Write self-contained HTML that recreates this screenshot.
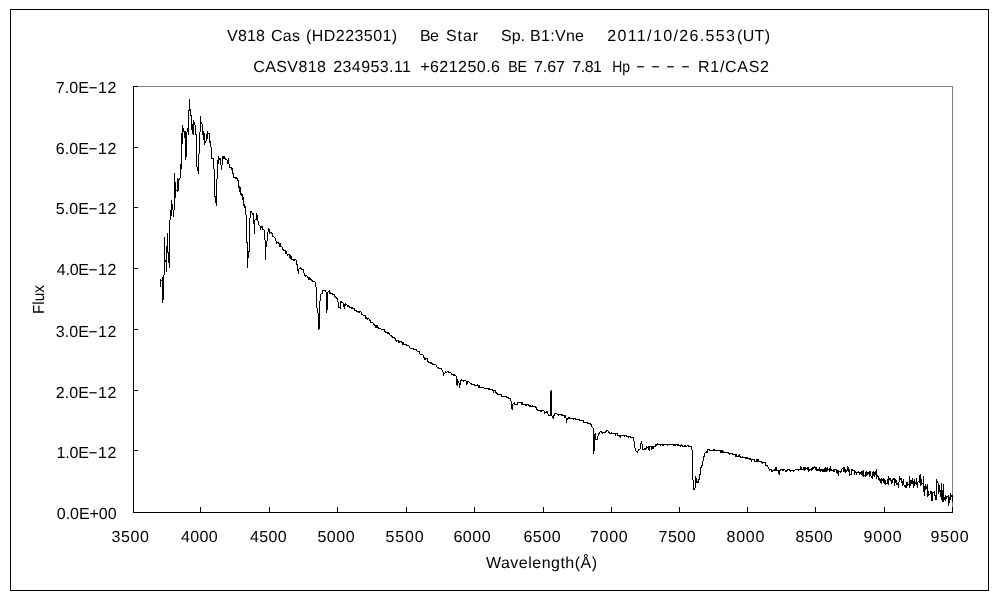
<!DOCTYPE html>
<html lang="ja"><head><meta charset="utf-8"><title>V818 Cas (HD223501) Be Star spectrum</title>
<style>html,body{margin:0;padding:0;background:#fff}body{width:1000px;height:600px;overflow:hidden}svg{display:block;filter:grayscale(1)}text{font-family:"Liberation Sans","IPAGothic",sans-serif;font-size:16px;fill:#000;text-rendering:geometricPrecision}</style></head><body>
<svg width="1000" height="600" viewBox="0 0 1000 600">
<rect x="0" y="0" width="1000" height="600" fill="#fff"/>
<g shape-rendering="crispEdges">
<rect x="10.5" y="9.5" width="978" height="581" fill="none" stroke="#000" stroke-width="1"/>
<rect x="138" y="86" width="815" height="1" fill="#808080"/>
<rect x="952" y="86" width="1" height="421" fill="#808080"/>
<rect x="133" y="86" width="1" height="427" fill="#000"/>
<rect x="133" y="512" width="820" height="1" fill="#000"/>
<path d="M134 86h4v1h-4zM134 147h4v1h-4zM134 207h4v1h-4zM134 268h4v1h-4zM134 329h4v1h-4zM134 390h4v1h-4zM134 450h4v1h-4zM134 512h4v1h-4zM133 507h1v5h-1zM200 507h1v5h-1zM269 507h1v5h-1zM337 507h1v5h-1zM406 507h1v5h-1zM474 507h1v5h-1zM543 507h1v5h-1zM611 507h1v5h-1zM679 507h1v5h-1zM747 507h1v5h-1zM815 507h1v5h-1zM884 507h1v5h-1zM952 507h1v5h-1z" fill="#000"/>
<path d="M160 279h1v8h-1zM161 280h1v1h-1zM162 277h1v26h-1zM163 275h1v25h-1zM164 237h1v38h-1zM165 260h1v2h-1zM166 246h1v26h-1zM167 233h1v20h-1zM168 252h1v11h-1zM169 220h1v48h-1zM170 210h1v10h-1zM171 200h1v16h-1zM172 204h1v6h-1zM173 210h1v7h-1zM174 173h1v37h-1zM175 182h1v16h-1zM176 190h1v1h-1zM177 178h1v14h-1zM178 179h1v12h-1zM179 178h1v2h-1zM180 164h1v14h-1zM181 133h1v36h-1zM182 125h1v19h-1zM183 128h1v4h-1zM184 131h1v7h-1zM185 131h1v29h-1zM186 132h1v25h-1zM187 128h1v4h-1zM188 110h1v25h-1zM189 99h1v12h-1zM190 109h1v7h-1zM191 115h1v15h-1zM192 124h1v10h-1zM193 120h1v15h-1zM194 122h1v3h-1zM195 125h1v10h-1zM196 134h1v33h-1zM197 167h1v4h-1zM198 154h1v20h-1zM199 132h1v22h-1zM200 116h1v16h-1zM201 122h1v2h-1zM202 124h1v11h-1zM203 131h1v9h-1zM204 133h1v12h-1zM205 141h1v2h-1zM206 134h1v7h-1zM207 131h1v8h-1zM208 133h1v1h-1zM209 133h1v10h-1zM210 141h1v6h-1zM211 147h1v12h-1zM212 158h1v1h-1zM213 158h1v11h-1zM214 169h1v28h-1zM215 196h1v7h-1zM216 179h1v27h-1zM217 160h1v19h-1zM218 156h1v8h-1zM219 158h1v2h-1zM220 158h1v7h-1zM221 165h1v5h-1zM222 156h1v9h-1zM223 156h1v3h-1zM224 156h1v3h-1zM225 158h1v2h-1zM226 159h1v1h-1zM227 160h1v4h-1zM228 158h1v6h-1zM229 164h1v4h-1zM230 167h1v1h-1zM231 167h1v3h-1zM232 168h1v6h-1zM233 173h1v5h-1zM234 177h1v1h-1zM235 177h1v2h-1zM236 177h1v2h-1zM237 178h1v3h-1zM238 180h1v8h-1zM239 186h1v6h-1zM240 187h1v8h-1zM241 193h1v3h-1zM242 194h1v6h-1zM243 197h1v9h-1zM244 204h1v4h-1zM245 206h1v9h-1zM246 215h1v28h-1zM247 242h1v26h-1zM248 251h1v7h-1zM249 218h1v34h-1zM250 211h1v7h-1zM251 211h1v2h-1zM252 213h1v2h-1zM253 213h1v11h-1zM254 220h1v14h-1zM255 219h1v1h-1zM256 213h1v7h-1zM257 215h1v6h-1zM258 221h1v4h-1zM259 225h1v1h-1zM260 226h1v4h-1zM261 226h1v2h-1zM262 226h1v4h-1zM263 229h1v1h-1zM264 230h1v10h-1zM265 240h1v20h-1zM266 241h1v6h-1zM267 232h1v9h-1zM268 228h1v4h-1zM269 229h1v5h-1zM270 232h1v1h-1zM271 232h1v2h-1zM272 233h1v4h-1zM273 236h1v1h-1zM274 237h1v1h-1zM275 238h1v3h-1zM276 241h1v3h-1zM277 242h1v1h-1zM278 242h1v2h-1zM279 243h1v4h-1zM280 243h1v4h-1zM281 246h1v1h-1zM282 247h1v3h-1zM283 249h1v2h-1zM284 250h1v1h-1zM285 250h1v4h-1zM286 251h1v3h-1zM287 254h1v2h-1zM288 254h1v1h-1zM289 254h1v4h-1zM290 255h1v4h-1zM291 256h1v4h-1zM292 259h1v1h-1zM293 259h1v2h-1zM294 259h1v2h-1zM295 259h1v1h-1zM296 260h1v5h-1zM297 264h1v7h-1zM298 269h1v5h-1zM299 268h1v1h-1zM300 267h1v2h-1zM301 268h1v2h-1zM302 269h1v1h-1zM303 269h1v4h-1zM304 273h1v3h-1zM305 275h1v2h-1zM306 275h1v1h-1zM307 276h1v2h-1zM308 277h1v3h-1zM309 277h1v3h-1zM310 278h1v2h-1zM311 279h1v2h-1zM312 280h1v2h-1zM313 281h1v1h-1zM314 281h1v1h-1zM315 282h1v5h-1zM316 287h1v21h-1zM317 308h1v5h-1zM318 313h1v17h-1zM319 301h1v28h-1zM320 294h1v7h-1zM321 293h1v1h-1zM322 290h1v4h-1zM323 290h1v1h-1zM324 290h1v1h-1zM325 290h1v2h-1zM326 292h1v21h-1zM327 292h1v18h-1zM328 291h1v1h-1zM329 290h1v4h-1zM330 292h1v2h-1zM331 293h1v1h-1zM332 293h1v2h-1zM333 294h1v1h-1zM334 294h1v3h-1zM335 296h1v2h-1zM336 297h1v2h-1zM337 298h1v4h-1zM338 302h1v6h-1zM339 307h1v1h-1zM340 301h1v8h-1zM341 301h1v2h-1zM342 302h1v1h-1zM343 303h1v4h-1zM344 304h1v5h-1zM345 303h1v3h-1zM346 304h1v1h-1zM347 305h1v2h-1zM348 305h1v2h-1zM349 306h1v2h-1zM350 307h1v1h-1zM351 307h1v2h-1zM352 307h1v2h-1zM353 308h1v1h-1zM354 308h1v3h-1zM355 310h1v1h-1zM356 310h1v2h-1zM357 311h1v1h-1zM358 311h1v2h-1zM359 311h1v2h-1zM360 311h1v1h-1zM361 312h1v3h-1zM362 314h1v1h-1zM363 315h1v1h-1zM364 315h1v1h-1zM365 315h1v4h-1zM366 317h1v2h-1zM367 318h1v2h-1zM368 318h1v1h-1zM369 319h1v2h-1zM370 320h1v3h-1zM371 322h1v1h-1zM372 322h1v1h-1zM373 323h1v2h-1zM374 324h1v2h-1zM375 325h1v3h-1zM376 325h1v3h-1zM377 325h1v3h-1zM378 327h1v2h-1zM379 328h1v1h-1zM380 328h1v1h-1zM381 329h1v1h-1zM382 329h1v1h-1zM383 329h1v1h-1zM384 329h1v3h-1zM385 331h1v2h-1zM386 332h1v1h-1zM387 332h1v2h-1zM388 332h1v2h-1zM389 333h1v2h-1zM390 335h1v1h-1zM391 335h1v2h-1zM392 336h1v2h-1zM393 337h1v1h-1zM394 337h1v2h-1zM395 338h1v3h-1zM396 340h1v2h-1zM397 340h1v1h-1zM398 340h1v3h-1zM399 341h1v2h-1zM400 341h1v1h-1zM401 341h1v2h-1zM402 342h1v3h-1zM403 342h1v3h-1zM404 344h1v1h-1zM405 344h1v1h-1zM406 344h1v2h-1zM407 345h1v1h-1zM408 345h1v1h-1zM409 346h1v2h-1zM410 348h1v1h-1zM411 348h1v1h-1zM412 348h1v1h-1zM413 348h1v2h-1zM414 349h1v1h-1zM415 349h1v1h-1zM416 349h1v2h-1zM417 351h1v1h-1zM418 351h1v1h-1zM419 351h1v3h-1zM420 354h1v1h-1zM421 354h1v1h-1zM422 354h1v1h-1zM423 355h1v3h-1zM424 357h1v3h-1zM425 358h1v2h-1zM426 358h1v1h-1zM427 358h1v4h-1zM428 361h1v2h-1zM429 362h1v1h-1zM430 362h1v2h-1zM431 362h1v2h-1zM432 363h1v2h-1zM433 364h1v1h-1zM434 364h1v1h-1zM435 364h1v1h-1zM436 365h1v2h-1zM437 367h1v1h-1zM438 367h1v2h-1zM439 368h1v1h-1zM440 368h1v1h-1zM441 368h1v2h-1zM442 370h1v2h-1zM443 372h1v4h-1zM444 373h1v1h-1zM445 371h1v2h-1zM446 372h1v1h-1zM447 371h1v1h-1zM448 371h1v2h-1zM449 372h1v1h-1zM450 372h1v1h-1zM451 373h1v2h-1zM452 374h1v1h-1zM453 374h1v2h-1zM454 374h1v2h-1zM455 375h1v1h-1zM456 376h1v9h-1zM457 379h1v7h-1zM458 381h1v2h-1zM459 383h1v5h-1zM460 380h1v5h-1zM461 379h1v2h-1zM462 380h1v1h-1zM463 380h1v2h-1zM464 380h1v1h-1zM465 380h1v1h-1zM466 381h1v4h-1zM467 381h1v3h-1zM468 381h1v1h-1zM469 382h1v1h-1zM470 383h1v1h-1zM471 383h1v2h-1zM472 384h1v1h-1zM473 384h1v1h-1zM474 384h1v2h-1zM475 385h1v1h-1zM476 385h1v1h-1zM477 384h1v2h-1zM478 385h1v3h-1zM479 385h1v3h-1zM480 387h1v1h-1zM481 387h1v1h-1zM482 387h1v1h-1zM483 387h1v1h-1zM484 388h1v1h-1zM485 388h1v1h-1zM486 388h1v1h-1zM487 388h1v1h-1zM488 388h1v2h-1zM489 388h1v2h-1zM490 389h1v1h-1zM491 389h1v1h-1zM492 389h1v2h-1zM493 390h1v3h-1zM494 390h1v1h-1zM495 390h1v3h-1zM496 392h1v2h-1zM497 393h1v2h-1zM498 394h1v1h-1zM499 394h1v1h-1zM500 394h1v1h-1zM501 394h1v3h-1zM502 396h1v1h-1zM503 396h1v1h-1zM504 396h1v1h-1zM505 396h1v1h-1zM506 396h1v2h-1zM507 397h1v1h-1zM508 397h1v2h-1zM509 398h1v1h-1zM510 398h1v3h-1zM511 401h1v8h-1zM512 404h1v6h-1zM513 403h1v1h-1zM514 402h1v3h-1zM515 404h1v1h-1zM516 404h1v1h-1zM517 402h1v3h-1zM518 402h1v1h-1zM519 402h1v1h-1zM520 402h1v1h-1zM521 402h1v3h-1zM522 402h1v3h-1zM523 404h1v1h-1zM524 404h1v1h-1zM525 404h1v2h-1zM526 404h1v2h-1zM527 404h1v1h-1zM528 404h1v2h-1zM529 405h1v2h-1zM530 405h1v2h-1zM531 406h1v1h-1zM532 405h1v2h-1zM533 406h1v1h-1zM534 406h1v1h-1zM535 406h1v2h-1zM536 407h1v3h-1zM537 409h1v2h-1zM538 410h1v1h-1zM539 410h1v1h-1zM540 410h1v2h-1zM541 410h1v2h-1zM542 410h1v1h-1zM543 410h1v1h-1zM544 411h1v3h-1zM545 412h1v1h-1zM546 411h1v2h-1zM547 411h1v3h-1zM548 414h1v2h-1zM549 415h1v1h-1zM550 391h1v25h-1zM551 390h1v26h-1zM552 416h1v2h-1zM553 415h1v4h-1zM554 413h1v3h-1zM555 413h1v1h-1zM556 413h1v1h-1zM557 414h1v1h-1zM558 414h1v2h-1zM559 414h1v1h-1zM560 414h1v1h-1zM561 414h1v2h-1zM562 414h1v2h-1zM563 415h1v1h-1zM564 415h1v3h-1zM565 415h1v3h-1zM566 418h1v5h-1zM567 418h1v2h-1zM568 417h1v2h-1zM569 417h1v2h-1zM570 418h1v1h-1zM571 418h1v1h-1zM572 418h1v1h-1zM573 418h1v2h-1zM574 418h1v1h-1zM575 418h1v2h-1zM576 419h1v1h-1zM577 419h1v1h-1zM578 419h1v1h-1zM579 419h1v2h-1zM580 420h1v1h-1zM581 420h1v1h-1zM582 420h1v1h-1zM583 420h1v3h-1zM584 422h1v1h-1zM585 422h1v1h-1zM586 422h1v1h-1zM587 422h1v2h-1zM588 423h1v1h-1zM589 423h1v1h-1zM590 423h1v2h-1zM591 424h1v3h-1zM592 427h1v1h-1zM593 428h1v26h-1zM594 434h1v17h-1zM595 433h1v7h-1zM596 439h1v1h-1zM597 436h1v4h-1zM598 433h1v3h-1zM599 432h1v2h-1zM600 431h1v1h-1zM601 431h1v2h-1zM602 432h1v2h-1zM603 432h1v1h-1zM604 432h1v1h-1zM605 431h1v2h-1zM606 430h1v2h-1zM607 430h1v1h-1zM608 431h1v2h-1zM609 432h1v2h-1zM610 433h1v1h-1zM611 432h1v2h-1zM612 433h1v1h-1zM613 433h1v1h-1zM614 433h1v1h-1zM615 433h1v3h-1zM616 433h1v1h-1zM617 433h1v3h-1zM618 435h1v1h-1zM619 435h1v2h-1zM620 435h1v3h-1zM621 435h1v1h-1zM622 435h1v1h-1zM623 435h1v1h-1zM624 435h1v2h-1zM625 435h1v1h-1zM626 435h1v2h-1zM627 436h1v1h-1zM628 436h1v2h-1zM629 436h1v1h-1zM630 436h1v2h-1zM631 437h1v1h-1zM632 437h1v1h-1zM633 437h1v4h-1zM634 441h1v7h-1zM635 448h1v3h-1zM636 451h1v1h-1zM637 451h1v2h-1zM638 449h1v2h-1zM639 449h1v1h-1zM640 443h1v6h-1zM641 441h1v3h-1zM642 444h1v6h-1zM643 449h1v1h-1zM644 448h1v2h-1zM645 448h1v2h-1zM646 446h1v3h-1zM647 447h1v1h-1zM648 446h1v4h-1zM649 446h1v5h-1zM650 446h1v1h-1zM651 446h1v4h-1zM652 446h1v3h-1zM653 446h1v3h-1zM654 446h1v1h-1zM655 444h1v3h-1zM656 444h1v2h-1zM657 443h1v2h-1zM658 444h1v1h-1zM659 444h1v1h-1zM660 444h1v2h-1zM661 444h1v1h-1zM662 444h1v2h-1zM663 444h1v2h-1zM664 444h1v1h-1zM665 444h1v1h-1zM666 444h1v1h-1zM667 444h1v2h-1zM668 444h1v1h-1zM669 444h1v1h-1zM670 444h1v1h-1zM671 444h1v1h-1zM672 444h1v1h-1zM673 444h1v2h-1zM674 444h1v2h-1zM675 444h1v2h-1zM676 444h1v1h-1zM677 444h1v2h-1zM678 444h1v2h-1zM679 445h1v1h-1zM680 445h1v2h-1zM681 444h1v2h-1zM682 445h1v2h-1zM683 446h1v1h-1zM684 445h1v2h-1zM685 445h1v2h-1zM686 446h1v1h-1zM687 445h1v1h-1zM688 445h1v2h-1zM689 446h1v1h-1zM690 446h1v1h-1zM691 446h1v4h-1zM692 450h1v30h-1zM693 480h1v10h-1zM694 488h1v2h-1zM695 476h1v12h-1zM696 478h1v5h-1zM697 481h1v2h-1zM698 479h1v4h-1zM699 474h1v6h-1zM700 467h1v8h-1zM701 465h1v3h-1zM702 461h1v5h-1zM703 456h1v5h-1zM704 453h1v4h-1zM705 452h1v1h-1zM706 451h1v2h-1zM707 449h1v4h-1zM708 449h1v1h-1zM709 449h1v2h-1zM710 450h1v1h-1zM711 450h1v1h-1zM712 450h1v1h-1zM713 449h1v2h-1zM714 449h1v2h-1zM715 450h1v1h-1zM716 450h1v1h-1zM717 450h1v1h-1zM718 450h1v1h-1zM719 450h1v1h-1zM720 450h1v3h-1zM721 450h1v3h-1zM722 450h1v3h-1zM723 451h1v2h-1zM724 452h1v1h-1zM725 452h1v1h-1zM726 452h1v1h-1zM727 452h1v1h-1zM728 452h1v2h-1zM729 453h1v2h-1zM730 453h1v1h-1zM731 453h1v1h-1zM732 453h1v2h-1zM733 454h1v1h-1zM734 454h1v1h-1zM735 454h1v3h-1zM736 454h1v3h-1zM737 456h1v1h-1zM738 455h1v2h-1zM739 454h1v3h-1zM740 456h1v2h-1zM741 457h1v1h-1zM742 456h1v2h-1zM743 457h1v1h-1zM744 457h1v1h-1zM745 457h1v2h-1zM746 457h1v2h-1zM747 457h1v2h-1zM748 458h1v1h-1zM749 458h1v2h-1zM750 458h1v2h-1zM751 459h1v3h-1zM752 459h1v1h-1zM753 459h1v1h-1zM754 459h1v3h-1zM755 461h1v1h-1zM756 459h1v3h-1zM757 459h1v3h-1zM758 459h1v3h-1zM759 461h1v1h-1zM760 461h1v1h-1zM761 461h1v2h-1zM762 462h1v2h-1zM763 462h1v1h-1zM764 462h1v1h-1zM765 462h1v4h-1zM766 465h1v1h-1zM767 465h1v2h-1zM768 467h1v2h-1zM769 469h1v2h-1zM770 469h1v1h-1zM771 469h1v3h-1zM772 470h1v2h-1zM773 470h1v1h-1zM774 469h1v2h-1zM775 467h1v4h-1zM776 467h1v4h-1zM777 470h1v1h-1zM778 470h1v4h-1zM779 470h1v5h-1zM780 469h1v2h-1zM781 469h1v1h-1zM782 469h1v2h-1zM783 469h1v2h-1zM784 469h1v1h-1zM785 470h1v2h-1zM786 470h1v2h-1zM787 469h1v2h-1zM788 469h1v1h-1zM789 469h1v2h-1zM790 470h1v2h-1zM791 470h1v1h-1zM792 470h1v1h-1zM793 470h1v2h-1zM794 470h1v1h-1zM795 469h1v1h-1zM796 469h1v1h-1zM797 469h1v1h-1zM798 469h1v2h-1zM799 469h1v1h-1zM800 466h1v4h-1zM801 467h1v3h-1zM802 469h1v1h-1zM803 467h1v3h-1zM804 467h1v4h-1zM805 467h1v3h-1zM806 468h1v1h-1zM807 467h1v3h-1zM808 467h1v5h-1zM809 469h1v2h-1zM810 469h1v1h-1zM811 468h1v3h-1zM812 467h1v3h-1zM813 467h1v2h-1zM814 466h1v2h-1zM815 467h1v3h-1zM816 467h1v4h-1zM817 469h1v2h-1zM818 469h1v2h-1zM819 467h1v4h-1zM820 469h1v3h-1zM821 469h1v2h-1zM822 469h1v3h-1zM823 469h1v3h-1zM824 468h1v4h-1zM825 467h1v5h-1zM826 468h1v4h-1zM827 467h1v4h-1zM828 469h1v1h-1zM829 468h1v4h-1zM830 466h1v5h-1zM831 469h1v2h-1zM832 470h1v1h-1zM833 469h1v3h-1zM834 469h1v3h-1zM835 469h1v1h-1zM836 469h1v4h-1zM837 470h1v4h-1zM838 470h1v6h-1zM839 471h1v1h-1zM840 471h1v2h-1zM841 469h1v3h-1zM842 468h1v1h-1zM843 467h1v5h-1zM844 467h1v5h-1zM845 469h1v4h-1zM846 470h1v2h-1zM847 466h1v5h-1zM848 467h1v5h-1zM849 469h1v7h-1zM850 474h1v1h-1zM851 469h1v6h-1zM852 469h1v2h-1zM853 470h1v1h-1zM854 470h1v5h-1zM855 471h1v2h-1zM856 472h1v3h-1zM857 472h1v1h-1zM858 471h1v2h-1zM859 472h1v3h-1zM860 472h1v2h-1zM861 471h1v4h-1zM862 471h1v5h-1zM863 470h1v7h-1zM864 475h1v1h-1zM865 472h1v5h-1zM866 471h1v5h-1zM867 472h1v3h-1zM868 472h1v2h-1zM869 471h1v6h-1zM870 471h1v5h-1zM871 476h1v2h-1zM872 472h1v7h-1zM873 471h1v5h-1zM874 472h1v5h-1zM875 471h1v4h-1zM876 469h1v10h-1zM877 475h1v2h-1zM878 476h1v4h-1zM879 478h1v3h-1zM880 479h1v4h-1zM881 478h1v6h-1zM882 479h1v2h-1zM883 478h1v5h-1zM884 479h1v5h-1zM885 480h1v5h-1zM886 483h1v1h-1zM887 479h1v5h-1zM888 476h1v9h-1zM889 478h1v2h-1zM890 478h1v3h-1zM891 480h1v4h-1zM892 479h1v4h-1zM893 478h1v2h-1zM894 478h1v8h-1zM895 479h1v4h-1zM896 480h1v5h-1zM897 483h1v2h-1zM898 482h1v6h-1zM899 476h1v6h-1zM900 478h1v2h-1zM901 478h1v5h-1zM902 481h1v5h-1zM903 479h1v6h-1zM904 485h1v2h-1zM905 485h1v3h-1zM906 482h1v6h-1zM907 482h1v4h-1zM908 484h1v1h-1zM909 476h1v12h-1zM910 480h1v6h-1zM911 480h1v4h-1zM912 478h1v6h-1zM913 481h1v7h-1zM914 479h1v7h-1zM915 482h1v2h-1zM916 478h1v7h-1zM917 482h1v6h-1zM918 481h1v1h-1zM919 475h1v8h-1zM920 474h1v12h-1zM921 479h1v6h-1zM922 483h1v1h-1zM923 476h1v16h-1zM924 486h1v10h-1zM925 484h1v6h-1zM926 486h1v3h-1zM927 484h1v13h-1zM928 491h1v5h-1zM929 494h1v1h-1zM930 491h1v3h-1zM931 491h1v10h-1zM932 492h1v9h-1zM933 492h1v1h-1zM934 491h1v5h-1zM935 495h1v5h-1zM936 479h1v21h-1zM937 481h1v2h-1zM938 483h1v11h-1zM939 485h1v7h-1zM940 490h1v7h-1zM941 483h1v17h-1zM942 490h1v12h-1zM943 484h1v18h-1zM944 497h1v3h-1zM945 495h1v6h-1zM946 496h1v3h-1zM947 496h1v1h-1zM948 495h1v11h-1zM949 497h1v6h-1zM950 493h1v7h-1zM951 495h1v2h-1zM952 495h1v7h-1z" fill="#000"/>
</g>
<g>
<text><tspan x="227.00" y="41.00" textLength="38.00" lengthAdjust="spacing">V818</tspan></text>
<text><tspan x="271.00" y="41.00" textLength="29.00" lengthAdjust="spacing">Cas</tspan></text>
<text><tspan x="306.00" y="41.00" textLength="91.20" lengthAdjust="spacing">(HD223501)</tspan></text>
<text><tspan x="420.00" y="41.00" textLength="19.00" lengthAdjust="spacing">Be</tspan></text>
<text><tspan x="446.00" y="41.00" textLength="32.00" lengthAdjust="spacing">Star</tspan></text>
<text><tspan x="501.00" y="41.00" textLength="24.00" lengthAdjust="spacing">Sp.</tspan></text>
<text><tspan x="530.00" y="41.00" textLength="54.00" lengthAdjust="spacing">B1:Vne</tspan></text>
<text><tspan x="607.20" y="41.00" textLength="127.80" lengthAdjust="spacing">2011/10/26.553</tspan><tspan x="737.00" y="41.00" textLength="33.00" lengthAdjust="spacing">(UT)</tspan></text>
<text><tspan x="253.20" y="72.00" textLength="72.80" lengthAdjust="spacing">CASV818</tspan></text>
<text><tspan x="333.20" y="72.00" textLength="77.80" lengthAdjust="spacing">234953.11</tspan></text>
<text><tspan x="420.20" y="72.00" textLength="79.80" lengthAdjust="spacing">+621250.6</tspan></text>
<text><tspan x="508.20" y="72.00" textLength="18.80" lengthAdjust="spacingAndGlyphs">BE</tspan></text>
<text><tspan x="534.00" y="72.00" textLength="31.00" lengthAdjust="spacing">7.67</tspan></text>
<text><tspan x="572.20" y="72.00" textLength="29.80" lengthAdjust="spacing">7.81</tspan></text>
<text><tspan x="612.20" y="72.00" textLength="17.80" lengthAdjust="spacingAndGlyphs">Hp</tspan></text>
<text><tspan x="698.00" y="72.00" textLength="71.00" lengthAdjust="spacing">R1/CAS2</tspan></text>
<text><tspan x="636.00" y="70.80" textLength="9.00" lengthAdjust="spacingAndGlyphs">-</tspan></text>
<text><tspan x="651.00" y="70.80" textLength="9.00" lengthAdjust="spacingAndGlyphs">-</tspan></text>
<text><tspan x="666.00" y="70.80" textLength="9.00" lengthAdjust="spacingAndGlyphs">-</tspan></text>
<text><tspan x="681.00" y="70.80" textLength="9.00" lengthAdjust="spacingAndGlyphs">-</tspan></text>
<text><tspan x="55.80" y="93.00" textLength="33.20" lengthAdjust="spacing">7.0E</tspan><tspan x="88.00" y="91.80" textLength="10.00" lengthAdjust="spacingAndGlyphs">-</tspan><tspan x="98.00" y="93.00" textLength="18.40" lengthAdjust="spacing">12</tspan></text>
<text><tspan x="55.80" y="154.00" textLength="33.20" lengthAdjust="spacing">6.0E</tspan><tspan x="88.00" y="152.80" textLength="10.00" lengthAdjust="spacingAndGlyphs">-</tspan><tspan x="98.00" y="154.00" textLength="18.40" lengthAdjust="spacing">12</tspan></text>
<text><tspan x="55.80" y="214.00" textLength="33.20" lengthAdjust="spacing">5.0E</tspan><tspan x="88.00" y="212.80" textLength="10.00" lengthAdjust="spacingAndGlyphs">-</tspan><tspan x="98.00" y="214.00" textLength="18.40" lengthAdjust="spacing">12</tspan></text>
<text><tspan x="56.80" y="275.00" textLength="32.20" lengthAdjust="spacing">4.0E</tspan><tspan x="88.00" y="273.80" textLength="10.00" lengthAdjust="spacingAndGlyphs">-</tspan><tspan x="98.00" y="275.00" textLength="18.40" lengthAdjust="spacing">12</tspan></text>
<text><tspan x="55.80" y="337.00" textLength="33.20" lengthAdjust="spacing">3.0E</tspan><tspan x="88.00" y="335.80" textLength="10.00" lengthAdjust="spacingAndGlyphs">-</tspan><tspan x="98.00" y="337.00" textLength="18.40" lengthAdjust="spacing">12</tspan></text>
<text><tspan x="55.80" y="398.00" textLength="33.20" lengthAdjust="spacing">2.0E</tspan><tspan x="88.00" y="396.80" textLength="10.00" lengthAdjust="spacingAndGlyphs">-</tspan><tspan x="98.00" y="398.00" textLength="18.40" lengthAdjust="spacing">12</tspan></text>
<text><tspan x="56.40" y="458.00" textLength="32.60" lengthAdjust="spacing">1.0E</tspan><tspan x="88.00" y="456.80" textLength="10.00" lengthAdjust="spacingAndGlyphs">-</tspan><tspan x="98.00" y="458.00" textLength="18.40" lengthAdjust="spacing">12</tspan></text>
<text><tspan x="56.80" y="519.00" textLength="59.80" lengthAdjust="spacing">0.0E+00</tspan></text>
<text><tspan x="111.60" y="541.60" textLength="37.40" lengthAdjust="spacing">3500</tspan></text>
<text><tspan x="181.00" y="541.60" textLength="36.60" lengthAdjust="spacing">4000</tspan></text>
<text><tspan x="250.00" y="541.60" textLength="36.60" lengthAdjust="spacing">4500</tspan></text>
<text><tspan x="317.40" y="541.60" textLength="37.20" lengthAdjust="spacing">5000</tspan></text>
<text><tspan x="385.60" y="541.60" textLength="38.00" lengthAdjust="spacing">5500</tspan></text>
<text><tspan x="453.40" y="541.60" textLength="37.20" lengthAdjust="spacing">6000</tspan></text>
<text><tspan x="523.40" y="541.60" textLength="37.20" lengthAdjust="spacing">6500</tspan></text>
<text><tspan x="590.00" y="541.60" textLength="37.60" lengthAdjust="spacing">7000</tspan></text>
<text><tspan x="658.60" y="541.60" textLength="37.00" lengthAdjust="spacing">7500</tspan></text>
<text><tspan x="726.60" y="541.60" textLength="37.80" lengthAdjust="spacing">8000</tspan></text>
<text><tspan x="795.40" y="541.60" textLength="37.20" lengthAdjust="spacing">8500</tspan></text>
<text><tspan x="863.60" y="541.60" textLength="38.00" lengthAdjust="spacing">9000</tspan></text>
<text><tspan x="930.60" y="541.60" textLength="38.00" lengthAdjust="spacing">9500</tspan></text>
<text><tspan x="486.00" y="568.00" textLength="111.00" lengthAdjust="spacing">Wavelength(Å)</tspan></text>
<text transform="translate(44.20 314.00) rotate(-90)"><tspan textLength="29.00" lengthAdjust="spacingAndGlyphs">Flux</tspan></text>
</g></svg></body></html>
